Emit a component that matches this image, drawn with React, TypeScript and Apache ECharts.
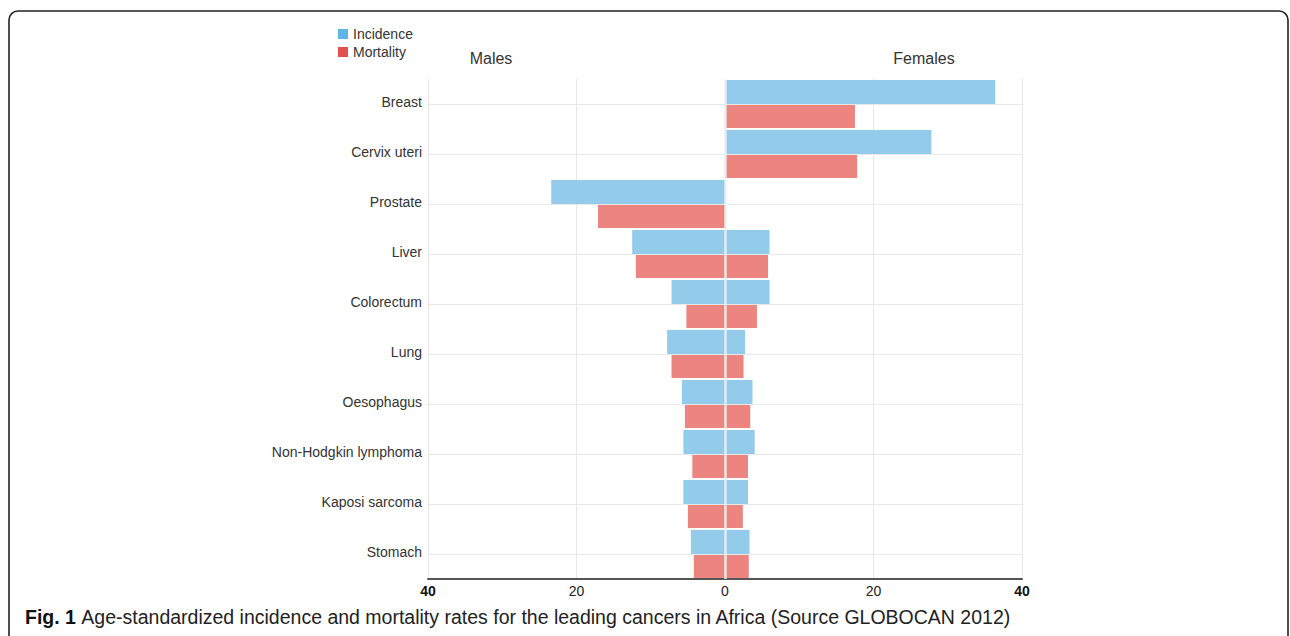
import React, { useEffect, useRef } from "react";
import * as echarts from "echarts";

const categories = [
  "Breast",
  "Cervix uteri",
  "Prostate",
  "Liver",
  "Colorectum",
  "Lung",
  "Oesophagus",
  "Non-Hodgkin lymphoma",
  "Kaposi sarcoma",
  "Stomach",
];
// values for males are given as positive numbers and plotted to the left
const incidenceMales = [0, 0, 23.4, 12.5, 7.2, 7.8, 5.8, 5.6, 5.6, 4.6];
const mortalityMales = [0, 0, 17.1, 12.0, 5.2, 7.2, 5.4, 4.4, 5.0, 4.2];
const incidenceFemales = [36.4, 27.8, 0, 6.0, 6.0, 2.7, 3.7, 4.0, 3.1, 3.3];
const mortalityFemales = [17.5, 17.8, 0, 5.8, 4.3, 2.5, 3.4, 3.1, 2.4, 3.2];
const xTicks = [-40, -20, 0, 20, 40];

const BLUE_BAR = "#93CBEB";
const RED_BAR = "#EC847F";
const BLUE_KEY = "#5DB6E6";
const RED_KEY = "#E35250";
const FONT = "'Liberation Sans', Arial, sans-serif";

export default function App() {
  const ref = useRef<HTMLDivElement>(null);
  useEffect(() => {
    if (!ref.current) return;
    const chart = echarts.init(ref.current, undefined, { renderer: "svg" });
    const neg = (a: number[]) => a.map((v) => (v === 0 ? null : -v));
    const pos = (a: number[]) => a.map((v) => (v === 0 ? null : v));
    const barCommon = {
      type: "bar",
      barWidth: 24,
      barGap: "0%",
      z: 2,
    };
    chart.setOption({
      animation: false,
      textStyle: { fontFamily: FONT },
      grid: { left: 428, right: 268, top: 79, height: 500, containLabel: false },
      legend: {
        orient: "vertical",
        left: 333,
        top: 22,
        itemWidth: 10,
        itemHeight: 10,
        itemGap: 4,
        textStyle: { fontSize: 14, color: "#333", fontFamily: FONT },
        data: [
          { name: "Incidence", itemStyle: { color: BLUE_KEY }, icon: "rect" },
          { name: "Mortality", itemStyle: { color: RED_KEY }, icon: "rect" },
        ],
        selectedMode: false,
      },
      xAxis: {
        type: "value",
        min: xTicks[0],
        max: xTicks[xTicks.length - 1],
        interval: 20,
        axisLine: { show: true, lineStyle: { color: "#555", width: 2 } },
        axisTick: { show: false },
        axisLabel: {
          fontSize: 14,
          color: "#222",
          margin: 5,
          formatter: (v: number) =>
            Math.abs(v) === 40 ? "{b|" + Math.abs(v) + "}" : String(Math.abs(v)),
          rich: { b: { fontWeight: "bold", fontSize: 14, color: "#111" } },
        },
        splitLine: { show: true, lineStyle: { color: "#e6e6e6", width: 1 } },
      },
      yAxis: {
        type: "category",
        inverse: true,
        data: categories,
        axisLine: { show: false },
        axisTick: { show: false },
        splitLine: { show: false },
        axisLabel: {
          fontSize: 14,
          color: "#333",
          margin: 6,
          formatter: (v: string) => "{l|" + v + "}",
          rich: { l: { fontSize: 14, color: "#333", padding: [0, 0, 4, 0] } },
        },
      },
      graphic: [
        {
          type: "rect",
          shape: { x: 9, y: 11, width: 1279, height: 700, r: 9 },
          style: { fill: "none", stroke: "#222", lineWidth: 1.6 },
          silent: true,
        },
        {
          type: "text",
          x: 491,
          y: 58,
          style: {
            text: "Males",
            fontSize: 16,
            fill: "#333",
            fontFamily: FONT,
            align: "center",
            verticalAlign: "middle",
          },
        },
        {
          type: "text",
          x: 924,
          y: 58,
          style: {
            text: "Females",
            fontSize: 16,
            fill: "#333",
            fontFamily: FONT,
            align: "center",
            verticalAlign: "middle",
          },
        },
        {
          type: "text",
          x: 25,
          y: 617,
          style: {
            text:
              "{b|Fig. 1} {n|Age-standardized incidence and mortality rates for the leading cancers in Africa (Source GLOBOCAN 2012)}",
            verticalAlign: "middle",
            rich: {
              b: { fontWeight: "bold", fontSize: 19.5, fill: "#111", fontFamily: FONT },
              n: { fontSize: 19.5, fill: "#222", fontFamily: FONT },
            },
            fontSize: 19.5,
            fontFamily: FONT,
          },
        },
      ],
      series: [
        {
          name: "grid",
          type: "line",
          data: [],
          silent: true,
          z: 1,
          markLine: {
            silent: true,
            symbol: "none",
            label: { show: false },
            lineStyle: { color: "#e8e8e8", width: 1, type: "solid" },
            data: categories.map((c) => ({ yAxis: c })),
          },
        },
        {
          ...barCommon,
          name: "Incidence",
          stack: "inc",
          data: neg(incidenceMales),
          itemStyle: { color: BLUE_BAR },
        },
        {
          ...barCommon,
          name: "Mortality",
          stack: "mort",
          data: neg(mortalityMales),
          itemStyle: { color: RED_BAR },
        },
        {
          ...barCommon,
          name: "Incidence",
          stack: "inc",
          data: pos(incidenceFemales),
          itemStyle: { color: BLUE_BAR },
        },
        {
          ...barCommon,
          name: "Mortality",
          stack: "mort",
          data: pos(mortalityFemales),
          itemStyle: { color: RED_BAR },
        },
        {
          name: "zero",
          type: "line",
          data: [],
          silent: true,
          z: 5,
          markLine: {
            silent: true,
            symbol: "none",
            label: { show: false },
            lineStyle: { color: "rgba(235,240,242,0.9)", width: 2.5, type: "solid" },
            data: [{ xAxis: 0 }],
          },
        },
      ],
    });
    return () => chart.dispose();
  }, []);
  return (
    <div
      ref={ref}
      style={{ position: "fixed", left: 0, top: 0, width: 1290, height: 636, background: "#fff" }}
    />
  );
}
